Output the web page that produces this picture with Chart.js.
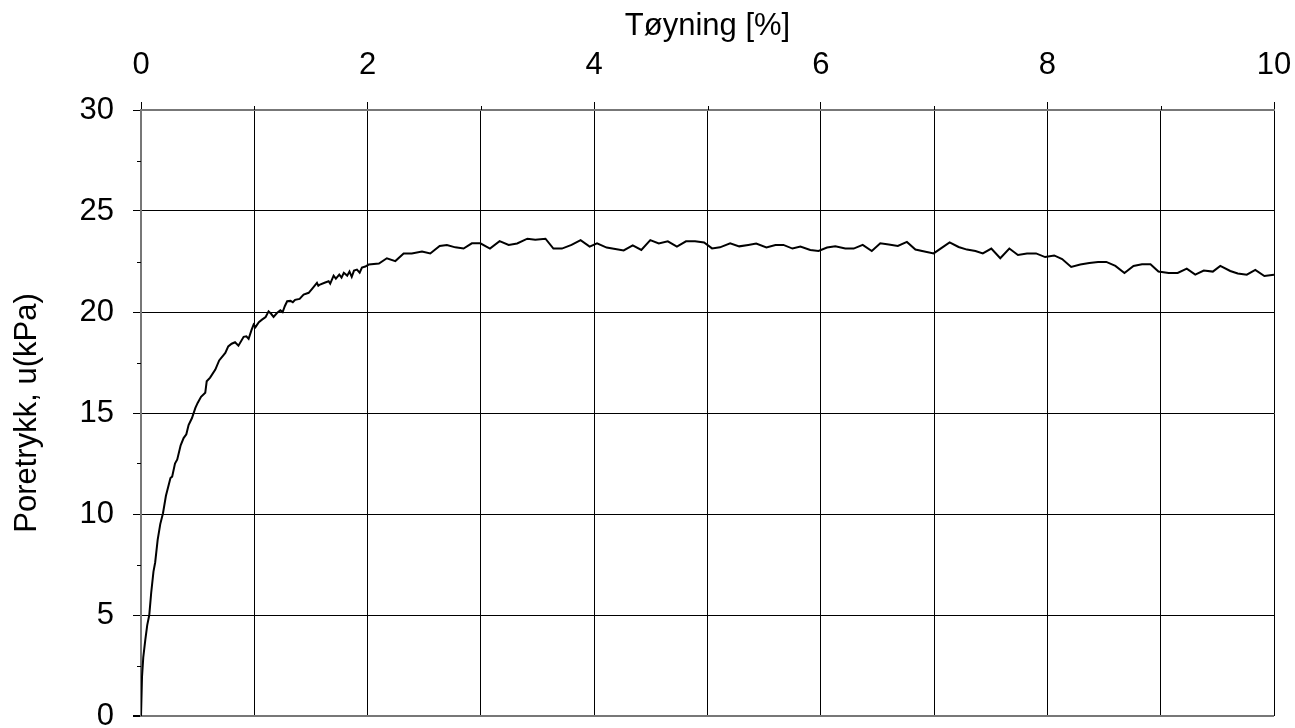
<!DOCTYPE html>
<html>
<head>
<meta charset="utf-8">
<script src="https://cdn.jsdelivr.net/npm/chart.js@4/dist/chart.umd.min.js"></script>
<style>
  html, body { margin: 0; background: #fff; }
  #wrap { position: relative; width: 1295px; height: 728px; }
</style>
</head>
<body>
<div id="wrap"><canvas id="poreChart"></canvas></div>
<script>
// Tøyning [%] vs poretrykk u [kPa]
const toyning = [
  0, 0.009, 0.02, 0.038, 0.055, 0.073, 0.09, 0.11, 0.125, 0.147, 0.17, 0.194, 0.22, 0.26, 0.275, 0.30,
  0.32, 0.35, 0.376, 0.40, 0.42, 0.45, 0.48, 0.50, 0.53, 0.567, 0.58, 0.61, 0.656, 0.69, 0.744, 0.77,
  0.80, 0.83, 0.86, 0.906, 0.93, 0.95, 0.975, 0.994, 1.01, 1.04, 1.068, 1.10, 1.126, 1.15, 1.17, 1.20,
  1.23, 1.25, 1.27, 1.29, 1.32, 1.34, 1.36, 1.40, 1.435, 1.48, 1.51, 1.553, 1.565, 1.58, 1.62, 1.656,
  1.67, 1.70, 1.72, 1.75, 1.77, 1.79, 1.82, 1.84, 1.86, 1.88, 1.906, 1.93, 1.95, 1.98, 2.01, 2.10,
  2.17, 2.245, 2.318, 2.39, 2.48, 2.553, 2.636, 2.70, 2.774, 2.847, 2.92, 2.995, 3.08, 3.165, 3.245, 3.32,
  3.41, 3.48, 3.57, 3.64, 3.715, 3.80, 3.88, 3.96, 4.025, 4.11, 4.186, 4.26, 4.34, 4.416, 4.495, 4.57,
  4.65, 4.73, 4.81, 4.89, 4.97, 5.04, 5.11, 5.2, 5.28, 5.36, 5.43, 5.52, 5.6, 5.67, 5.75, 5.82,
  5.907, 5.98, 6.055, 6.128, 6.216, 6.29, 6.37, 6.45, 6.525, 6.6, 6.68, 6.76, 6.835, 6.915, 6.996, 7.07,
  7.137, 7.216, 7.29, 7.365, 7.43, 7.505, 7.584, 7.664, 7.74, 7.82, 7.9, 7.98, 8.06, 8.13, 8.21, 8.29,
  8.37, 8.447, 8.52, 8.6, 8.68, 8.76, 8.835, 8.91, 8.98, 9.07, 9.15, 9.23, 9.305, 9.38, 9.46, 9.526,
  9.614, 9.68, 9.76, 9.835, 9.915, 10.0
];
const poretrykk = [
  0, 1.95, 2.9, 3.77, 4.5, 5.0, 6.1, 7.15, 7.6, 8.72, 9.5, 10.04, 10.9, 11.78, 11.85, 12.5,
  12.7, 13.4, 13.76, 13.95, 14.4, 14.75, 15.25, 15.5, 15.8, 16.0, 16.57, 16.75, 17.15, 17.6, 17.97, 18.3,
  18.43, 18.5, 18.33, 18.77, 18.8, 18.67, 19.1, 19.38, 19.25, 19.5, 19.62, 19.75, 20.03, 19.9, 19.76, 19.95,
  20.09, 20.0, 20.3, 20.53, 20.55, 20.48, 20.6, 20.65, 20.86, 20.95, 21.15, 21.44, 21.3, 21.36, 21.45, 21.52,
  21.4, 21.8, 21.65, 21.85, 21.7, 21.94, 21.8, 22.0, 21.74, 22.05, 22.1, 21.95, 22.2, 22.25, 22.35, 22.4,
  22.66, 22.52, 22.9, 22.9, 22.99, 22.9, 23.27, 23.32, 23.2, 23.14, 23.4, 23.4, 23.14, 23.51, 23.32, 23.39,
  23.63, 23.58, 23.63, 23.14, 23.14, 23.32, 23.56, 23.24, 23.4, 23.19, 23.12, 23.05, 23.3, 23.07, 23.56, 23.39,
  23.5, 23.24, 23.5, 23.5, 23.44, 23.15, 23.2, 23.4, 23.25, 23.32, 23.39, 23.2, 23.32, 23.32, 23.14, 23.24,
  23.07, 23.02, 23.19, 23.25, 23.14, 23.14, 23.32, 23.02, 23.4, 23.34, 23.27, 23.47, 23.09, 23.0, 22.9, 23.19,
  23.45, 23.22, 23.09, 23.02, 22.9, 23.14, 22.66, 23.14, 22.82, 22.89, 22.9, 22.72, 22.8, 22.62, 22.23, 22.35,
  22.43, 22.48, 22.48, 22.28, 21.93, 22.28, 22.36, 22.36, 22.0, 21.93, 21.93, 22.15, 21.85, 22.05, 22.0, 22.28,
  22.03, 21.91, 21.85, 22.08, 21.78, 21.85
];

const xLabels = [0, 2, 4, 6, 8, 10];
const yLabels = [0, 5, 10, 15, 20, 25, 30];
const xMinor = [1, 3, 5, 7, 9];
const yMinor = [2.5, 7.5, 12.5, 17.5, 22.5, 27.5];

Chart.defaults.font.family = '"Liberation Sans", Arial, sans-serif';
Chart.defaults.font.size = 31;
Chart.defaults.color = '#000';

// short outward ticks between the labelled ones
const minorTicks = {
  id: 'minorTicks',
  afterDraw(chart) {
    const { ctx, chartArea, scales: { x, y } } = chart;
    ctx.save();
    ctx.strokeStyle = '#000';
    ctx.lineWidth = 1;
    ctx.beginPath();
    xMinor.forEach(v => {
      const px = Math.round(x.getPixelForValue(v)) + 0.5;
      ctx.moveTo(px, chartArea.top);
      ctx.lineTo(px, chartArea.top - 4);
    });
    yMinor.forEach(v => {
      const py = Math.round(y.getPixelForValue(v)) + 0.5;
      ctx.moveTo(chartArea.left, py);
      ctx.lineTo(chartArea.left - 4, py);
    });
    ctx.stroke();
    ctx.restore();
  },
};

const charts = {};
charts.pore = new Chart(document.getElementById('poreChart'), {
  type: 'scatter',
  data: {
    datasets: [{
      data: toyning.map((x, i) => ({ x, y: poretrykk[i] })),
      showLine: true,
      borderColor: '#000',
      borderWidth: 2,
      pointRadius: 0,
      tension: 0,
    }],
  },
  options: {
    responsive: true,
    maintainAspectRatio: false,
    animation: false,
    layout: { padding: { left: 0, right: 21, top: 0, bottom: 12 } },
    plugins: { legend: { display: false }, tooltip: { enabled: false } },
    scales: {
      x: {
        type: 'linear', position: 'top', min: 0, max: 10,
        // fixed axis band; end labels may overhang the plot edges
        afterFit: s => { s.height = 110; s.paddingLeft = 0; s.paddingRight = 0; },
        title: { display: true, text: 'Tøyning [%]', padding: { top: 8, bottom: 0 } },
        ticks: { stepSize: 1, padding: 18, maxRotation: 0, autoSkip: false,
                 callback: v => xLabels.includes(v) ? v : '' },
        grid: { color: '#000', lineWidth: 1, tickLength: 8,
                tickColor: c => xLabels.includes(c.tick && c.tick.value) ? '#000' : 'rgba(0,0,0,0)' },
        border: { color: '#777', width: 2 },
      },
      y: {
        min: 0, max: 30,
        afterFit: s => { s.width = 141; s.paddingTop = 0; s.paddingBottom = 0; },
        title: { display: true, text: 'Poretrykk, u(kPa)', padding: { top: 9, bottom: 0 } },
        ticks: { stepSize: 5, padding: 19, callback: v => yLabels.includes(v) ? v : '' },
        grid: { color: c => c.tick && c.tick.value === 0 ? '#777' : '#000',
                lineWidth: c => c.tick && c.tick.value === 0 ? 2 : 1,
                tickLength: 8, tickColor: '#000' },
        border: { color: '#777', width: 2 },
      },
    },
  },
  plugins: [minorTicks],
});
</script>
</body>
</html>
